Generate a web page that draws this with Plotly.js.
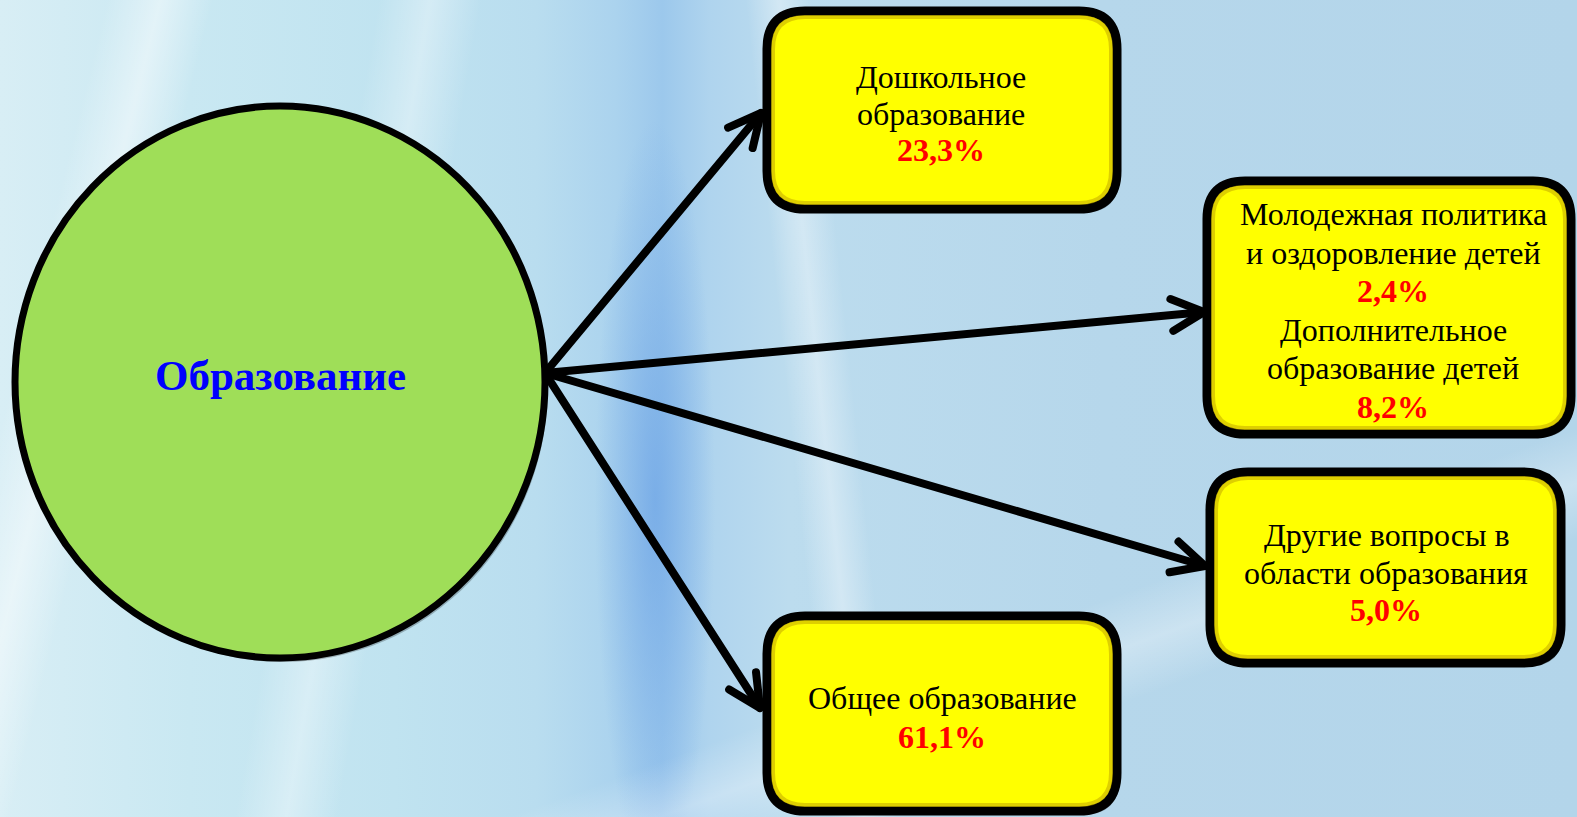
<!DOCTYPE html>
<html>
<head>
<meta charset="utf-8">
<script src="https://cdn.plot.ly/plotly-3.0.1.min.js"></script>
<style>
  html, body { margin: 0; padding: 0; width: 1577px; height: 817px; overflow: hidden; }
  #bg {
    position: absolute; left: 0; top: 0; width: 1577px; height: 817px;
    background:
      linear-gradient(104deg, rgba(255,255,255,0) 6%, rgba(255,255,255,0.45) 9%, rgba(255,255,255,0) 12%),
      linear-gradient(100deg, rgba(255,255,255,0) 22%, rgba(255,255,255,0.35) 25%, rgba(255,255,255,0) 28%),
      linear-gradient(84deg, rgba(255,255,255,0) 50%, rgba(255,255,255,0.35) 52%, rgba(255,255,255,0) 54%),
      linear-gradient(160deg, rgba(255,255,255,0) 72%, rgba(255,255,255,0.3) 76%, rgba(255,255,255,0) 80%),
      radial-gradient(ellipse 60px 380px at 655px 500px, rgba(110,165,230,0.75) 0%, rgba(110,165,230,0) 100%),
      linear-gradient(to right, #d8eef5 0%, #c9e8f2 12%, #c0e3f0 25%, #b9ddef 34%, #abd3ee 39%, #9cc8ec 42%, #afd4ee 45%, #bcdcee 50%, #b6d7eb 70%, #b3d5ea 100%);
  }
  #chart { position: absolute; left: 0; top: 0; width: 1577px; height: 817px; }
  .js-plotly-plot .shapelayer path { stroke-linecap: round; stroke-linejoin: round; }
</style>
</head>
<body>
<div id="bg"></div>
<div id="chart"></div>
<script>
// ---- data ----
const centerLabel = 'Образование';
const categories = [
  'Дошкольное образование',
  'Молодежная политика и оздоровление детей',
  'Дополнительное образование детей',
  'Другие вопросы в области образования',
  'Общее образование'
];
const shares = [23.3, 2.4, 8.2, 5.0, 61.1];
const labelLines = [
  ['Дошкольное', 'образование'],
  ['Молодежная политика', 'и оздоровление детей'],
  ['Дополнительное', 'образование детей'],
  ['Другие вопросы в', 'области образования'],
  ['Общее образование']
];

// ---- layout (pixel geometry, not data) ----
const W = 1577, H = 817;
const hub = { x0: 15, y0: 106, x1: 545, y1: 658, cx: 280, cy: 375 };
const origin = [545, 373];
const boxes = [
  { cats: [0],    x0: 767,  y0: 11,  x1: 1117, y1: 209, tx: 941,  ty0: 77,  step: 36.5, tip: [761, 113] },
  { cats: [1, 2], x0: 1207, y0: 181, x1: 1571, y1: 434, tx: 1393, ty0: 214, step: 38.5, tip: [1204, 312] },
  { cats: [3],    x0: 1210, y0: 472, x1: 1561, y1: 663, tx: 1386, ty0: 535, step: 37.5, tip: [1205, 566] },
  { cats: [4],    x0: 767,  y0: 616, x1: 1117, y1: 811, tx: 942,  ty0: 698, step: 39,   tip: [760, 708] }
];
const FONT = 'Liberation Serif, Times New Roman, serif';

function fmt(v) { return v.toFixed(1).replace('.', ',') + '%'; }

function roundRect(x0, y0, x1, y1, r) {
  return 'M' + (x0 + r) + ',' + y0 +
    ' L' + (x1 - r) + ',' + y0 + ' Q' + x1 + ',' + y0 + ' ' + x1 + ',' + (y0 + r) +
    ' L' + x1 + ',' + (y1 - r) + ' Q' + x1 + ',' + y1 + ' ' + (x1 - r) + ',' + y1 +
    ' L' + (x0 + r) + ',' + y1 + ' Q' + x0 + ',' + y1 + ' ' + x0 + ',' + (y1 - r) +
    ' L' + x0 + ',' + (y0 + r) + ' Q' + x0 + ',' + y0 + ' ' + (x0 + r) + ',' + y0 + ' Z';
}

const shapes = [];
const annotations = [];

// arrows
boxes.forEach(b => {
  const [ox, oy] = origin;
  const [tx, ty] = b.tip;
  shapes.push({ type: 'line', xref: 'x', yref: 'y', x0: ox, y0: oy, x1: tx, y1: ty,
    line: { color: '#000', width: 8 } });
  const ang = Math.atan2(ty - oy, tx - ox);
  const L = 36, spread = 0.46;
  const a1 = [tx - L * Math.cos(ang - spread), ty - L * Math.sin(ang - spread)];
  const a2 = [tx - L * Math.cos(ang + spread), ty - L * Math.sin(ang + spread)];
  shapes.push({ type: 'path', xref: 'x', yref: 'y',
    path: 'M' + a1[0] + ',' + a1[1] + ' L' + tx + ',' + ty + ' L' + a2[0] + ',' + a2[1],
    line: { color: '#000', width: 8 } });
});

// hub shadow + circle
shapes.push({ type: 'circle', xref: 'x', yref: 'y', x0: hub.x0 + 3, y0: hub.y0 + 4, x1: hub.x1 + 3, y1: hub.y1 + 4,
  fillcolor: 'rgba(0,0,0,0.25)', line: { width: 0 } });
shapes.push({ type: 'circle', xref: 'x', yref: 'y', x0: hub.x0, y0: hub.y0, x1: hub.x1, y1: hub.y1,
  fillcolor: '#9fde58', line: { color: '#000', width: 7 } });
annotations.push({ xref: 'x', yref: 'y', x: hub.cx, y: hub.cy, text: '<b>' + centerLabel + '</b>',
  showarrow: false, xanchor: 'center', yanchor: 'middle',
  font: { family: FONT, size: 43, color: '#0000ff' } });

// boxes
boxes.forEach(b => {
  const r = 38;
  shapes.push({ type: 'path', xref: 'x', yref: 'y', path: roundRect(b.x0 + 3, b.y0 + 4, b.x1 + 3, b.y1 + 4, r),
    fillcolor: 'rgba(0,0,0,0.3)', line: { width: 0 } });
  shapes.push({ type: 'path', xref: 'x', yref: 'y', path: roundRect(b.x0, b.y0, b.x1, b.y1, r),
    fillcolor: '#ffff00', line: { color: '#000', width: 9 } });
  shapes.push({ type: 'path', xref: 'x', yref: 'y', path: roundRect(b.x0 + 6, b.y0 + 6, b.x1 - 6, b.y1 - 6, r - 6),
    fillcolor: 'rgba(0,0,0,0)', line: { color: 'rgba(190,160,0,0.5)', width: 4 } });
  const lines = [];
  b.cats.forEach(i => {
    labelLines[i].forEach(t => lines.push({ text: t, color: '#000' }));
    lines.push({ text: '<b>' + fmt(shares[i]) + '</b>', color: '#ff0000' });
  });
  lines.forEach((ln, k) => {
    annotations.push({ xref: 'x', yref: 'y', x: b.tx, y: b.ty0 + k * b.step, text: ln.text,
      showarrow: false, xanchor: 'center', yanchor: 'middle', align: 'center',
      font: { family: FONT, size: 32, color: ln.color } });
  });
});

const layout = {
  width: W, height: H,
  margin: { l: 0, r: 0, t: 0, b: 0, pad: 0 },
  paper_bgcolor: 'rgba(0,0,0,0)', plot_bgcolor: 'rgba(0,0,0,0)',
  xaxis: { range: [0, W], visible: false, fixedrange: true },
  yaxis: { range: [H, 0], visible: false, fixedrange: true },
  showlegend: false,
  shapes: shapes,
  annotations: annotations
};

Plotly.newPlot('chart', [{ type: 'scatter', x: [], y: [], mode: 'markers', hoverinfo: 'skip', name: 'Образование' }],
  layout, { staticPlot: true, displayModeBar: false });
</script>
</body>
</html>
